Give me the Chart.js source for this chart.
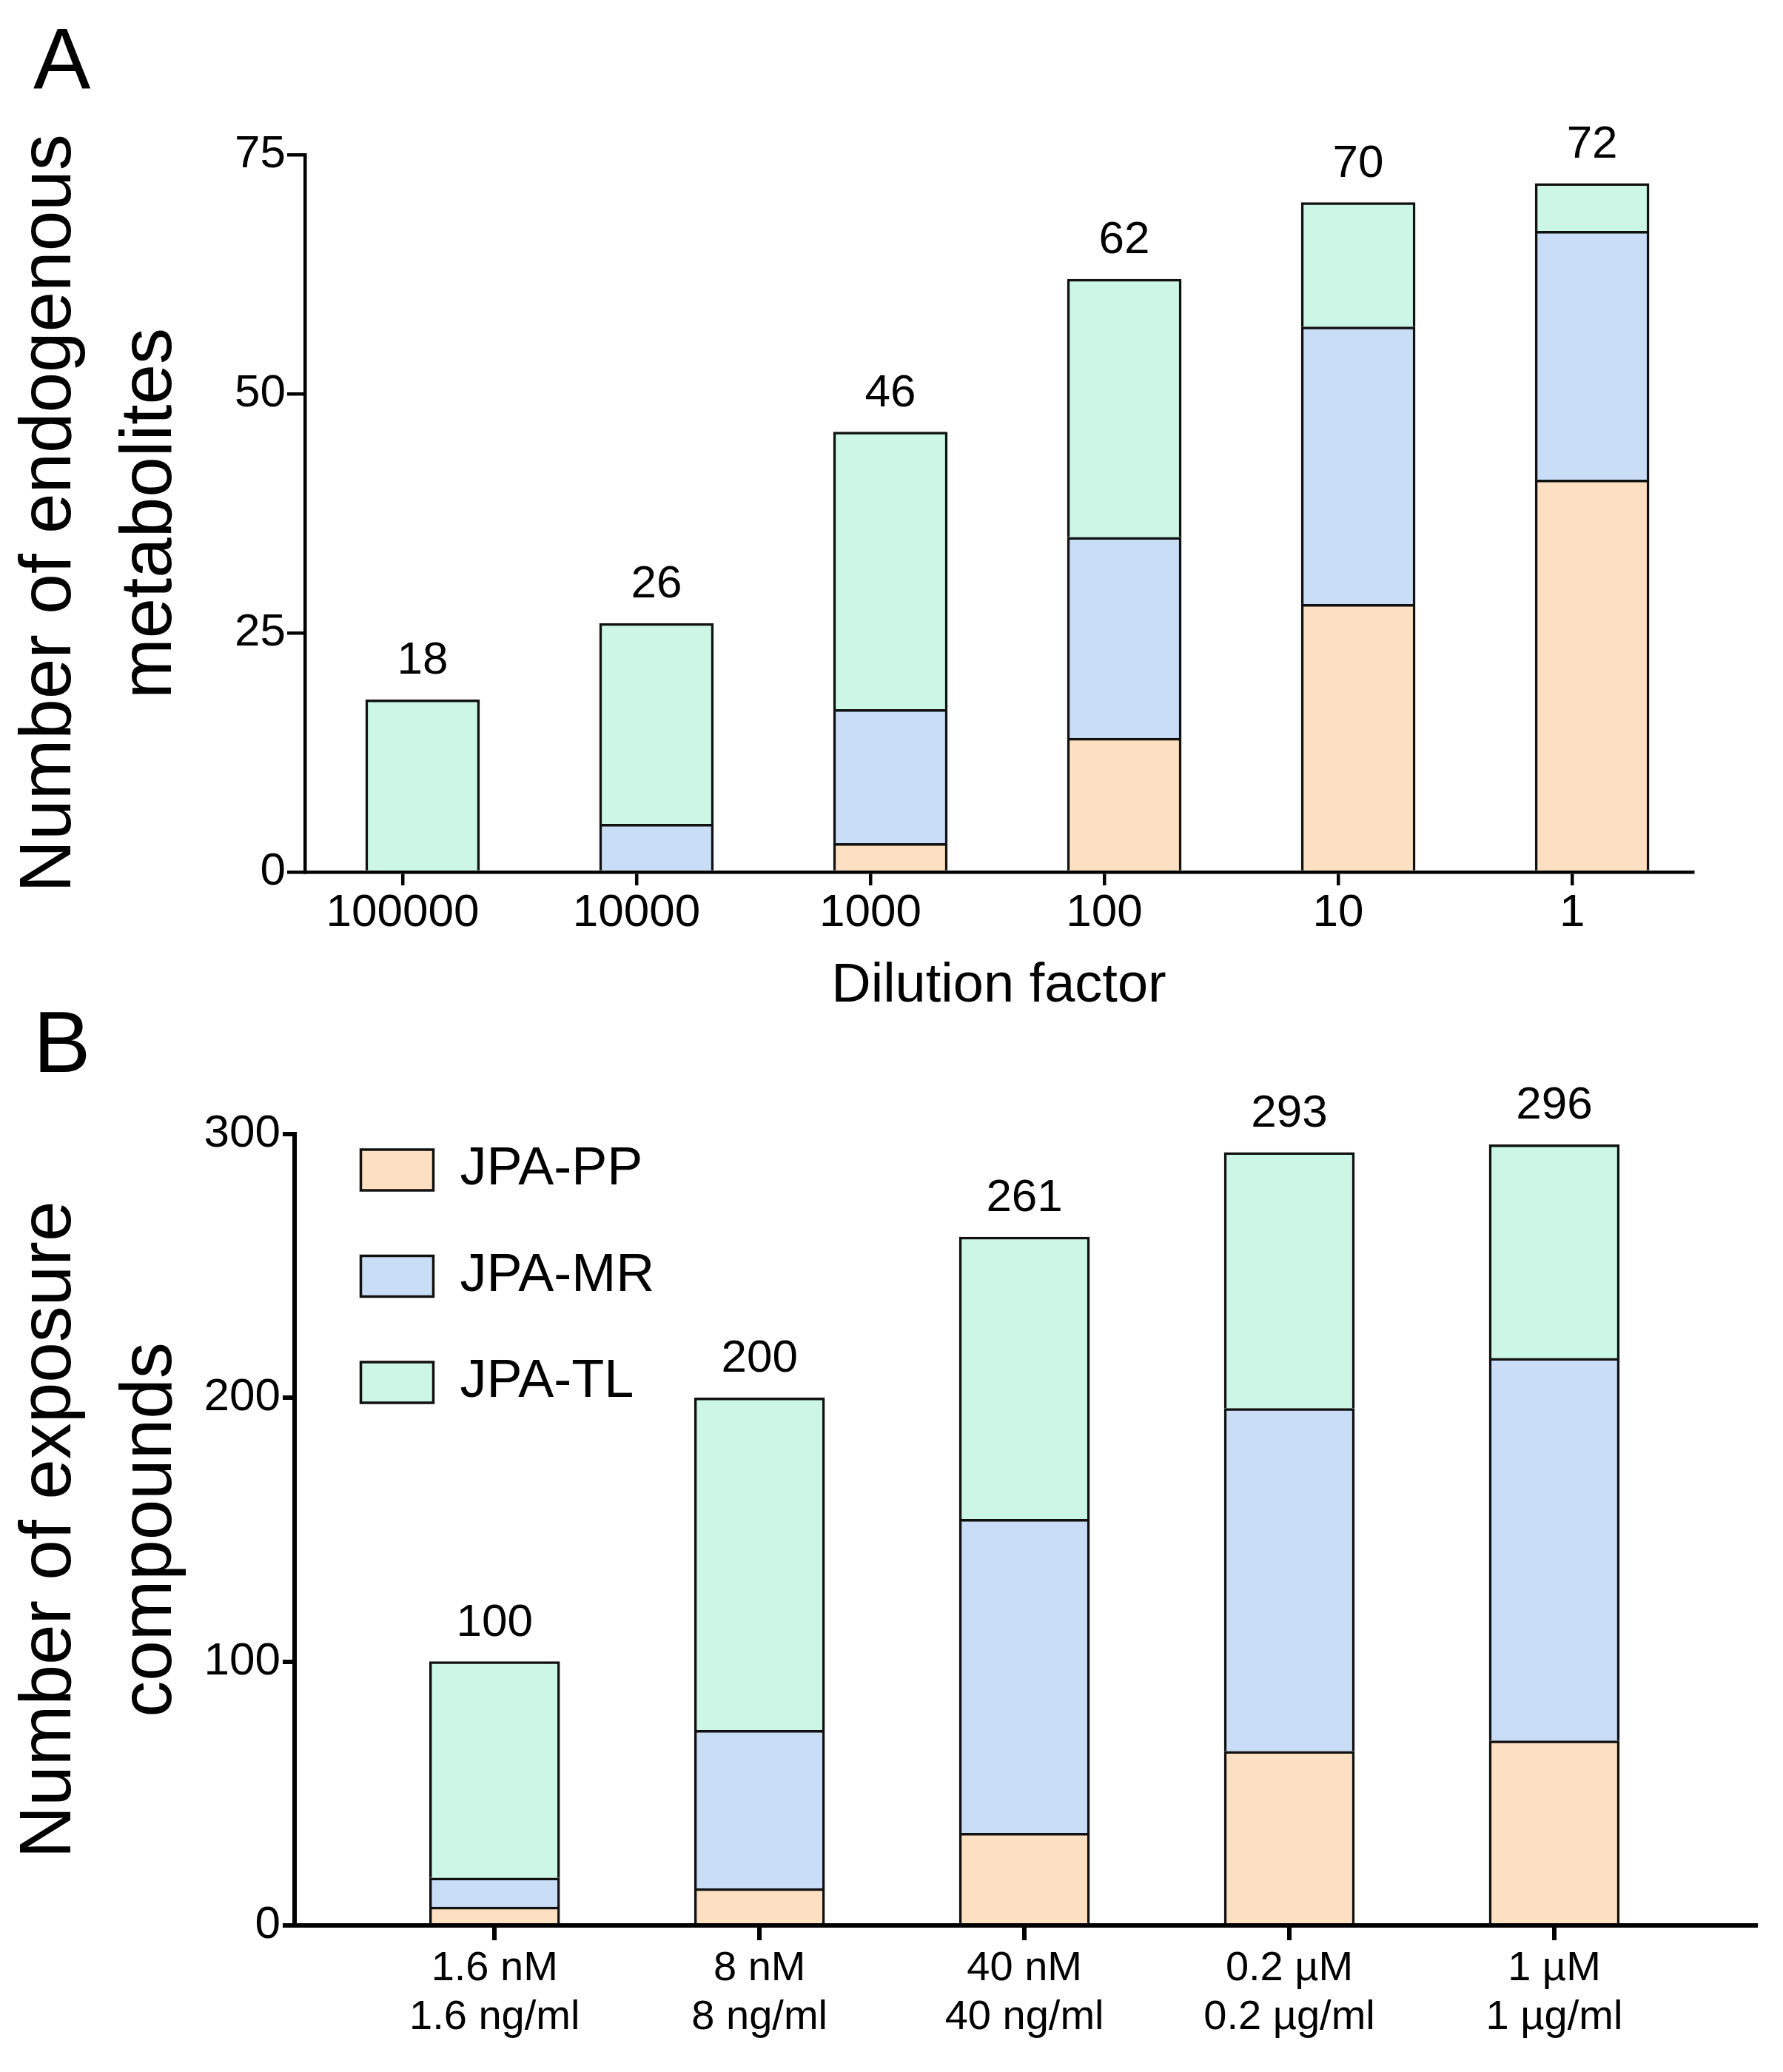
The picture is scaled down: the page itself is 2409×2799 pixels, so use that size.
<!DOCTYPE html>
<html>
<head>
<meta charset="utf-8">
<script src="https://cdn.jsdelivr.net/npm/chart.js@4/dist/chart.umd.min.js"></script>
<style>
  html, body { margin: 0; padding: 0; background: #fff; }
  body { width: 2409px; height: 2799px; position: relative; overflow: hidden; }
  .panel { position: absolute; font-family: "Liberation Sans", Arial, sans-serif; font-size: 116px; line-height: 1; color: #000; }
  canvas { position: absolute; left: 0; }
</style>
</head>
<body>
<div class="panel" style="left:45px; top:22px;">A</div>
<div class="panel" style="left:45px; top:1350px;">B</div>
<canvas id="cA" width="2409" height="1400" style="top:0; width:2409px; height:1400px;"></canvas>
<canvas id="cB" width="2409" height="1399" style="top:1400px; width:2409px; height:1399px;"></canvas>
<script>
// ---------- data ----------
const seriesNames = ['JPA-PP', 'JPA-MR', 'JPA-TL'];

const dilutionLabels = ['100000', '10000', '1000', '100', '10', '1'];
const ppA = [0, 0, 3, 14, 28, 41];
const mrA = [0, 5, 14, 21, 29, 26];
const tlA = [18, 21, 29, 27, 13, 5];
const yTicksA = [0, 25, 50, 75];

const concLabels = [
  ['1.6 nM', '1.6 ng/ml'],
  ['8 nM', '8 ng/ml'],
  ['40 nM', '40 ng/ml'],
  ['0.2 µM', '0.2 µg/ml'],
  ['1 µM', '1 µg/ml']
];
const ppB = [7, 14, 35, 66, 70];
const mrB = [11, 60, 119, 130, 145];
const tlB = [82, 126, 107, 97, 81];
const yTicksB = [0, 100, 200, 300];

// ---------- styles ----------
const FONT = '"Liberation Sans", Arial, sans-serif';
const colors = ['#FDE0C1', '#C9DDF6', '#CCF7E6'];
Chart.defaults.font.family = FONT;
Chart.defaults.color = '#000';

const toXY = arr => arr.map((v, i) => ({ x: i, y: v }));

const totalsPlugin = {
  id: 'totals',
  afterDatasetsDraw(chart, args, opts) {
    const { ctx } = chart;
    const xs = chart.scales.x, ys = chart.scales.y;
    const n = chart.data.datasets[0].data.length;
    ctx.save();
    ctx.font = opts.size + 'px ' + FONT;
    ctx.fillStyle = '#000';
    ctx.textAlign = 'center';
    ctx.textBaseline = 'alphabetic';
    for (let i = 0; i < n; i++) {
      let total = 0;
      chart.data.datasets.forEach(ds => { total += ds.data[i].y; });
      ctx.fillText(String(total), xs.getPixelForValue(i), ys.getPixelForValue(total) - opts.gap);
    }
    ctx.restore();
  }
};

const legendPlace = {
  id: 'legendPlace',
  afterLayout(chart, args, opts) {
    const lg = chart.legend;
    if (!lg || !chart.options.plugins.legend.display) return;
    const ca = chart.chartArea;
    const w = lg.width, h = lg.height;
    lg.left = ca.left + opts.dx;
    lg.top = ca.top + opts.dy;
    lg.right = lg.left + w;
    lg.bottom = lg.top + h;
  }
};

function makeDatasets(pp, mr, tl, bw, thick) {
  return [pp, mr, tl].map((arr, k) => ({
    label: seriesNames[k],
    data: toXY(arr),
    backgroundColor: colors[k],
    borderColor: '#111',
    borderWidth: bw,
    barThickness: thick
  }));
}

function buildChart(canvasId, cfg) {
  const catLabels = cfg.cats;
  return new Chart(document.getElementById(canvasId), {
    type: 'bar',
    data: { datasets: makeDatasets(cfg.pp, cfg.mr, cfg.tl, cfg.barBorder, cfg.barThickness) },
    plugins: [totalsPlugin, legendPlace],
    options: {
      responsive: false,
      devicePixelRatio: 1,
      animation: false,
      layout: { padding: cfg.padding },
      plugins: {
        legend: cfg.legend,
        tooltip: { enabled: false },
        totals: { size: 62, gap: 35 },
        legendPlace: cfg.legendPlace
      },
      scales: {
        x: {
          type: 'linear',
          stacked: true,
          offset: false,
          min: cfg.xMin,
          max: cfg.xMax,
          afterBuildTicks: s => { s.ticks = catLabels.map((_, i) => ({ value: i + cfg.tickShift })); },
          afterFit: s => { s.height = cfg.xHeight; },
          ticks: {
            autoSkip: false, maxRotation: 0, minRotation: 0,
            padding: cfg.xTickPad,
            font: { size: cfg.xTickFont, lineHeight: cfg.xTickLH },
            color: '#000',
            callback: (v, i) => catLabels[i]
          },
          grid: {
            offset: false,
            drawOnChartArea: false, drawTicks: true, tickLength: cfg.xTickLen,
            color: '#000', lineWidth: cfg.axisW, tickColor: '#000', tickWidth: cfg.axisW
          },
          border: { display: true, color: '#000', width: cfg.axisW },
          title: cfg.xTitle
        },
        y: {
          stacked: true,
          min: cfg.yTicks[0],
          max: cfg.yTicks[cfg.yTicks.length - 1],
          afterBuildTicks: s => { s.ticks = cfg.yTicks.map(v => ({ value: v })); },
          afterFit: s => { s.width = cfg.yWidth; },
          ticks: { padding: cfg.yTickPad, font: { size: 62 }, color: '#000' },
          grid: {
            offset: false,
            drawOnChartArea: false, drawTicks: true, tickLength: cfg.yTickLen,
            color: '#000', lineWidth: cfg.axisW, tickColor: '#000', tickWidth: cfg.axisW
          },
          border: { display: true, color: '#000', width: cfg.axisW },
          title: {
            display: true,
            text: cfg.yTitle,
            color: '#000',
            font: { size: 98, lineHeight: 136 / 98 },
            padding: { top: 0, bottom: 0 }
          }
        }
      }
    }
  });
}

buildChart('cA', {
  cats: dilutionLabels, pp: ppA, mr: mrA, tl: tlA,
  barBorder: 3.5, barThickness: 154,
  padding: { top: 209, right: 122, left: 0, bottom: 0 },
  xMin: -0.503, xMax: 5.43, tickShift: -0.0854,
  xHeight: 222, yWidth: 412,
  xTickPad: 1, xTickFont: 62, xTickLH: 1.2, xTickLen: 18,
  yTickPad: 2, yTickLen: 24, axisW: 4.5,
  yTicks: yTicksA,
  yTitle: ['Number of endogenous', 'metabolites'],
  xTitle: {
    display: true, text: 'Dilution factor', color: '#000',
    font: { size: 74, lineHeight: 1.2 }, padding: { top: 0, bottom: 23 }
  },
  legend: { display: false },
  legendPlace: { dx: 0, dy: 0 }
});

buildChart('cB', {
  cats: concLabels, pp: ppB, mr: mrB, tl: tlB,
  barBorder: 3.5, barThickness: 176,
  padding: { top: 132, right: 37, left: 0, bottom: 0 },
  xMin: -0.755, xMax: 4.76, tickShift: 0,
  xHeight: 198, yWidth: 398,
  xTickPad: 6, xTickFont: 56, xTickLH: 66 / 56, xTickLen: 20,
  yTickPad: 3, yTickLen: 16, axisW: 6,
  yTicks: yTicksB,
  yTitle: ['Number of exposure', 'compounds'],
  xTitle: { display: false },
  legend: {
    display: true,
    position: 'chartArea',
    align: 'start',
    labels: {
      boxWidth: 98, boxHeight: 55, padding: 71.5,
      font: { size: 72 }, color: '#000'
    }
  },
  legendPlace: { dx: 18, dy: -59 }
});
</script>
</body>
</html>
